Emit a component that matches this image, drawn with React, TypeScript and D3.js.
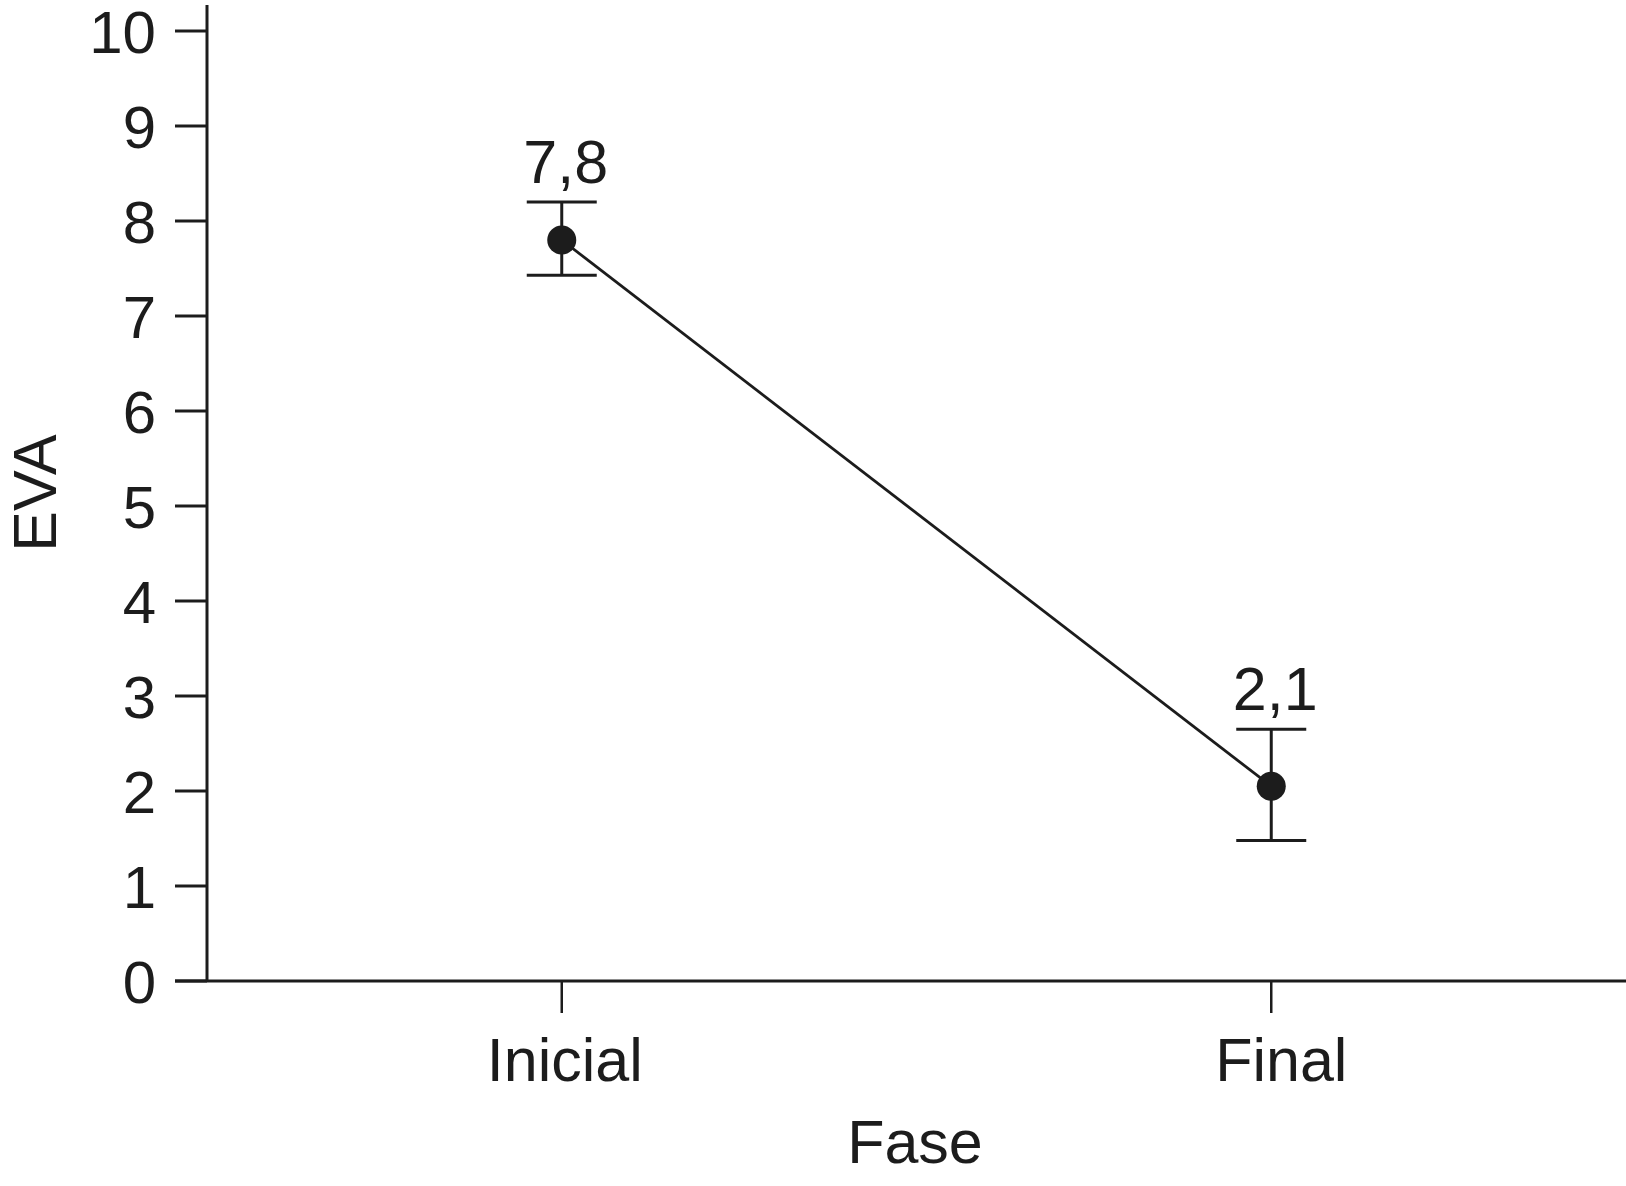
import React from "react";
import * as d3 from "d3";

const categories = ["Inicial", "Final"];
const means = [7.8, 2.05];
const upper = [8.2, 2.65];
const lower = [7.43, 1.48];
const valueLabels = ["7,8", "2,1"];
const yTicks = [0, 1, 2, 3, 4, 5, 6, 7, 8, 9, 10];
const xTitle = "Fase";
const yTitle = "EVA";

const W = 1626;
const H = 1186;
const INK = "#1c1c1c";
const FONT = "'Liberation Sans', Arial, Helvetica, sans-serif";

export default function App() {
  const axisX = 207;
  const axisY = 981;
  const x = d3.scalePoint<string>().domain(categories).range([axisX, W]).padding(0.5);
  const y = d3.scaleLinear().domain([0, 10]).range([axisY, 31]);
  const line = d3
    .line<number>()
    .x((_, i) => x(categories[i]) as number)
    .y((d) => y(d));

  return (
    <svg
      width={W}
      height={H}
      style={{ position: "absolute", left: 0, top: 0, background: "#fff" }}
      fontFamily={FONT}
    >
      <rect x={0} y={0} width={W} height={H} fill="#fff" />
      {/* y axis */}
      <line x1={axisX} x2={axisX} y1={5} y2={axisY} stroke={INK} strokeWidth={3} />
      {yTicks.map((t) => (
        <g key={t}>
          <line x1={175} x2={axisX} y1={y(t)} y2={y(t)} stroke={INK} strokeWidth={3} />
          <text
            x={156}
            y={y(t)}
            dy="0.36em"
            textAnchor="end"
            fontSize={60}
            fill={INK}
          >
            {t}
          </text>
        </g>
      ))}
      {/* x axis */}
      <line x1={175} x2={W} y1={axisY} y2={axisY} stroke={INK} strokeWidth={3} />
      {categories.map((c, i) => (
        <g key={c}>
          <line
            x1={x(c)}
            x2={x(c)}
            y1={axisY}
            y2={axisY + 32}
            stroke={INK}
            strokeWidth={2.5}
          />
          <text
            x={(x(c) as number) + (i === 0 ? 3 : 10)}
            y={1081}
            textAnchor="middle"
            fontSize={61}
            fill={INK}
          >
            {c}
          </text>
        </g>
      ))}
      <text x={915} y={1163} textAnchor="middle" fontSize={61} fill={INK}>
        {xTitle}
      </text>
      <text
        transform={`translate(56,493) rotate(-90)`}
        textAnchor="middle"
        fontSize={61}
        fill={INK}
      >
        {yTitle}
      </text>
      {/* connecting line */}
      <path d={line(means) || ""} fill="none" stroke={INK} strokeWidth={2.8} />
      {/* error bars + points */}
      {categories.map((c, i) => {
        const cx = x(c) as number;
        return (
          <g key={c}>
            <line x1={cx} x2={cx} y1={y(upper[i])} y2={y(lower[i])} stroke={INK} strokeWidth={3} />
            <line x1={cx - 35} x2={cx + 35} y1={y(upper[i])} y2={y(upper[i])} stroke={INK} strokeWidth={3} />
            <line x1={cx - 35} x2={cx + 35} y1={y(lower[i])} y2={y(lower[i])} stroke={INK} strokeWidth={3} />
            <circle cx={cx} cy={y(means[i])} r={14.5} fill={INK} />
            <text
              x={cx + 4}
              y={y(upper[i]) - 19}
              textAnchor="middle"
              fontSize={61}
              fill={INK}
            >
              {valueLabels[i]}
            </text>
          </g>
        );
      })}
    </svg>
  );
}
